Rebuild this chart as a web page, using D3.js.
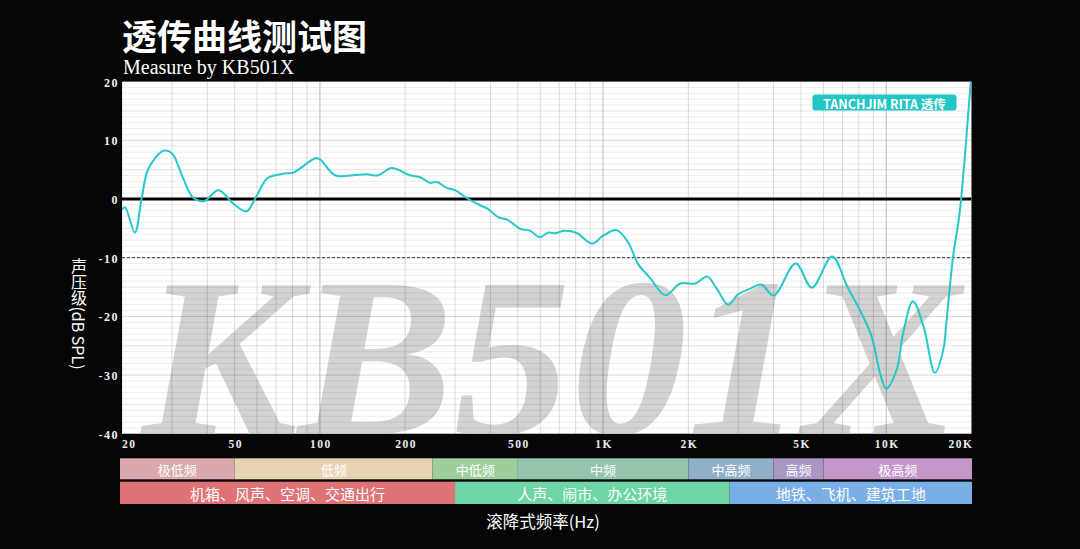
<!DOCTYPE html>
<html><head><meta charset="utf-8">
<script src="https://cdn.jsdelivr.net/npm/d3@7"></script>
<style>
html,body{margin:0;padding:0;background:#060606;}
svg{display:block;}
</style></head>
<body><svg id="c" width="1080" height="549"></svg>
<script>
// ---- data ----
const freqs = [20,20.5,22.2,23.5,24.8,28,30,32.9,35.7,39,43.8,49.5,55,59,65,69.6,75,80.6,96,100,113,131,146,161,179,208,226,245,259,280,300,330,358,392,426,458,510,552,596,642,677,726,808,914,1000,1116,1226,1330,1462,1658,1872,2120,2330,2530,2766,2990,3300,3630,4000,4790,5460,6440,7280,8100,8880,9500,9990,10860,11480,12420,13540,14850,15900,16300,17200,18200,19900,20500];
const spl   = [-1.8,-1.4,-5.7,0.3,5.2,8.2,7.8,3.5,0.2,-0.35,1.5,-0.8,-2.1,0,3.5,4.05,4.35,4.5,6.9,6.75,4.05,4.05,4.2,4.05,5.3,4.05,3.7,2.75,2.9,1.9,1.5,0.17,-0.8,-1.67,-3.1,-3.5,-5.1,-5.4,-6.5,-5.7,-5.85,-5.4,-5.8,-7.6,-6.25,-5.3,-7.4,-11.1,-13.4,-16.4,-14.4,-14.4,-13.2,-15.4,-18.0,-16.3,-15.3,-14.6,-16.45,-11.0,-15.1,-9.8,-14.9,-19.1,-23.4,-29.6,-32.3,-29.2,-22.8,-17.4,-21.7,-29.6,-25.7,-21.1,-10.0,-2,20,26];
const yTicks = [20,10,0,-10,-20,-30,-40];
const xTickVals = [20,50,100,200,500,1000,2000,5000,10000,20000];
const xTickLabels = ["20","50","100","200","500","1K","2K","5K","10K","20K"];
const band1Names = ["极低频","低频","中低频","中频","中高频","高频","极高频"];
const band1Edges = [20,50,250,500,2000,4000,6000,20000];
const band1Colors = ["#dba9ad","#e8d4b4","#9dcf9c","#93c5ad","#8fb0c6","#a997c4","#c496ca"];
const band2Names = ["机箱、风声、空调、交通出行","人声、闹市、办公环境","地铁、飞机、建筑工地"];
const band2Edges = [20,300,2800,20000];
const band2Colors = ["#e07378","#6dd5a6","#79aee6"];
const seriesName = "TANCHJIM RITA 透传";

// ---- layout ----
const L = 122, R = 971.5, T = 81.6, B = 433.8;
const svg = d3.select("#c");
const x = d3.scaleLog().domain([20,20000]).range([L,R]);
const y = d3.scaleLinear().domain([-40,20]).range([B,T]);
const serif = "'Liberation Serif','DejaVu Serif',serif";
const cjk = "'Noto Sans CJK SC','Noto Sans',sans-serif";

svg.append("rect").attr("width",1080).attr("height",549).attr("fill","#060606");

// titles
svg.append("text").attr("x",122).attr("y",50).attr("fill","#fff")
  .attr("font-family",cjk).attr("font-weight",700).attr("font-size",35).text("透传曲线测试图");
svg.append("text").attr("x",123).attr("y",74).attr("fill","#fff")
  .attr("font-family",serif).attr("font-size",20).text("Measure by KB501X");

// plot background
svg.append("rect").attr("x",L).attr("y",T).attr("width",R-L).attr("height",B-T).attr("fill","#fff");
svg.append("clipPath").attr("id","pc").append("rect").attr("x",L).attr("y",T).attr("width",R-L).attr("height",B-T);
const plot = svg.append("g").attr("clip-path","url(#pc)");

// watermark
plot.append("text").attr("x",142).attr("y",434).attr("fill","#d3d3d3")
  .attr("font-family",serif).attr("font-style","italic").attr("font-weight",700)
  .attr("font-size",226).attr("textLength",818).attr("lengthAdjust","spacingAndGlyphs").text("KB501X");

// horizontal grid
const hLines = d3.range(-40,21,1);
plot.selectAll(".hg").data(hLines).enter().append("line")
  .attr("x1",L).attr("x2",R).attr("y1",d=>y(d)).attr("y2",d=>y(d))
  .attr("stroke","#000")
  .attr("stroke-opacity",d=> d%10===0 ? 0.17 : (d%5===0 ? 0.11 : 0.075))
  .attr("stroke-width",1);

// vertical grid
const vLines = [];
[10,100,1000,10000].forEach(dec=>{ for(let k=1;k<10;k++){ const f=dec*k; if(f>=20&&f<=20000) vLines.push(f);} });
plot.selectAll(".vg").data(vLines).enter().append("line")
  .attr("x1",d=>x(d)).attr("x2",d=>x(d)).attr("y1",T).attr("y2",B)
  .attr("stroke","#000").attr("stroke-opacity",d=> [100,1000,10000].includes(d) ? 0.26 : 0.14).attr("stroke-width",1);

// reference lines
plot.append("line").attr("x1",L).attr("x2",R).attr("y1",y(-10)).attr("y2",y(-10))
  .attr("stroke","#555").attr("stroke-width",1.2).attr("stroke-dasharray","3,2");
plot.append("line").attr("x1",L).attr("x2",R).attr("y1",y(0)).attr("y2",y(0))
  .attr("stroke","#000").attr("stroke-width",3);

// curve
const pts = freqs.map((f,i)=>[f,spl[i]]);
const line = d3.line().x(d=>x(d[0])).y(d=>y(d[1])).curve(d3.curveCatmullRom.alpha(0.5));
plot.append("path").attr("d",line(pts)).attr("fill","none")
  .attr("stroke","#25c8c9").attr("stroke-width",2);

// legend
const lg = svg.append("g");
lg.append("rect").attr("x",812.5).attr("y",94.5).attr("width",144).attr("height",16).attr("rx",3).attr("fill","#22c6c6");
lg.append("text").attr("x",884.5).attr("y",103).attr("text-anchor","middle").attr("dominant-baseline","central")
  .attr("fill","#fff").attr("font-family",cjk).attr("font-weight",700).attr("font-size",12.5).text(seriesName);

// y tick labels
svg.selectAll(".yt").data(yTicks).enter().append("text")
  .attr("x",119).attr("y",d=>y(d)+1).attr("text-anchor","end").attr("dominant-baseline","central")
  .attr("fill","#eee").attr("font-family",serif).attr("font-weight",700).attr("font-size",12)
  .attr("letter-spacing",1.5).text(d=>d);

// x tick labels
svg.selectAll(".xt").data(xTickVals).enter().append("text")
  .attr("x",(d,i)=> i===0 ? L : (i===xTickVals.length-1 ? R+2 : x(d)+1))
  .attr("y",444).attr("dominant-baseline","central")
  .attr("text-anchor",(d,i)=> i===0 ? "start" : (i===xTickVals.length-1 ? "end" : "middle"))
  .attr("fill","#eee").attr("font-family",serif).attr("font-weight",700).attr("font-size",11.5)
  .attr("letter-spacing",1.5).text((d,i)=>xTickLabels[i]);

// bands
function bandRow(names, edges, colors, y0, h, fs){
  const g = svg.append("g");
  names.forEach((n,i)=>{
    const a = i===0 ? x(edges[i])-2 : x(edges[i]);
    const b = i===names.length-1 ? x(edges[i+1])+0.5 : x(edges[i+1]);
    g.append("rect").attr("x",a).attr("y",y0).attr("width",b-a).attr("height",h).attr("fill",colors[i]);
    g.append("text").attr("x",(a+b)/2).attr("y",y0+h/2+0.5).attr("text-anchor","middle")
      .attr("dominant-baseline","central").attr("fill","#fff").attr("font-family",cjk)
      .attr("font-size",fs).text(n);
  });
}
bandRow(band1Names, band1Edges, band1Colors, 458.3, 21, 13);
bandRow(band2Names, band2Edges, band2Colors, 481.7, 22.3, 15);

// axis titles
svg.append("text").attr("x",543).attr("y",521).attr("text-anchor","middle").attr("dominant-baseline","central")
  .attr("fill","#fff").attr("font-family",cjk).attr("font-size",16.5).text("滚降式频率(Hz)");
svg.append("text").attr("x",79).attr("y",314).attr("text-anchor","middle")
  .attr("fill","#fff").attr("font-family",cjk).attr("font-size",16)
  .style("writing-mode","vertical-rl").text("声压级(dB SPL)");
</script></body></html>
